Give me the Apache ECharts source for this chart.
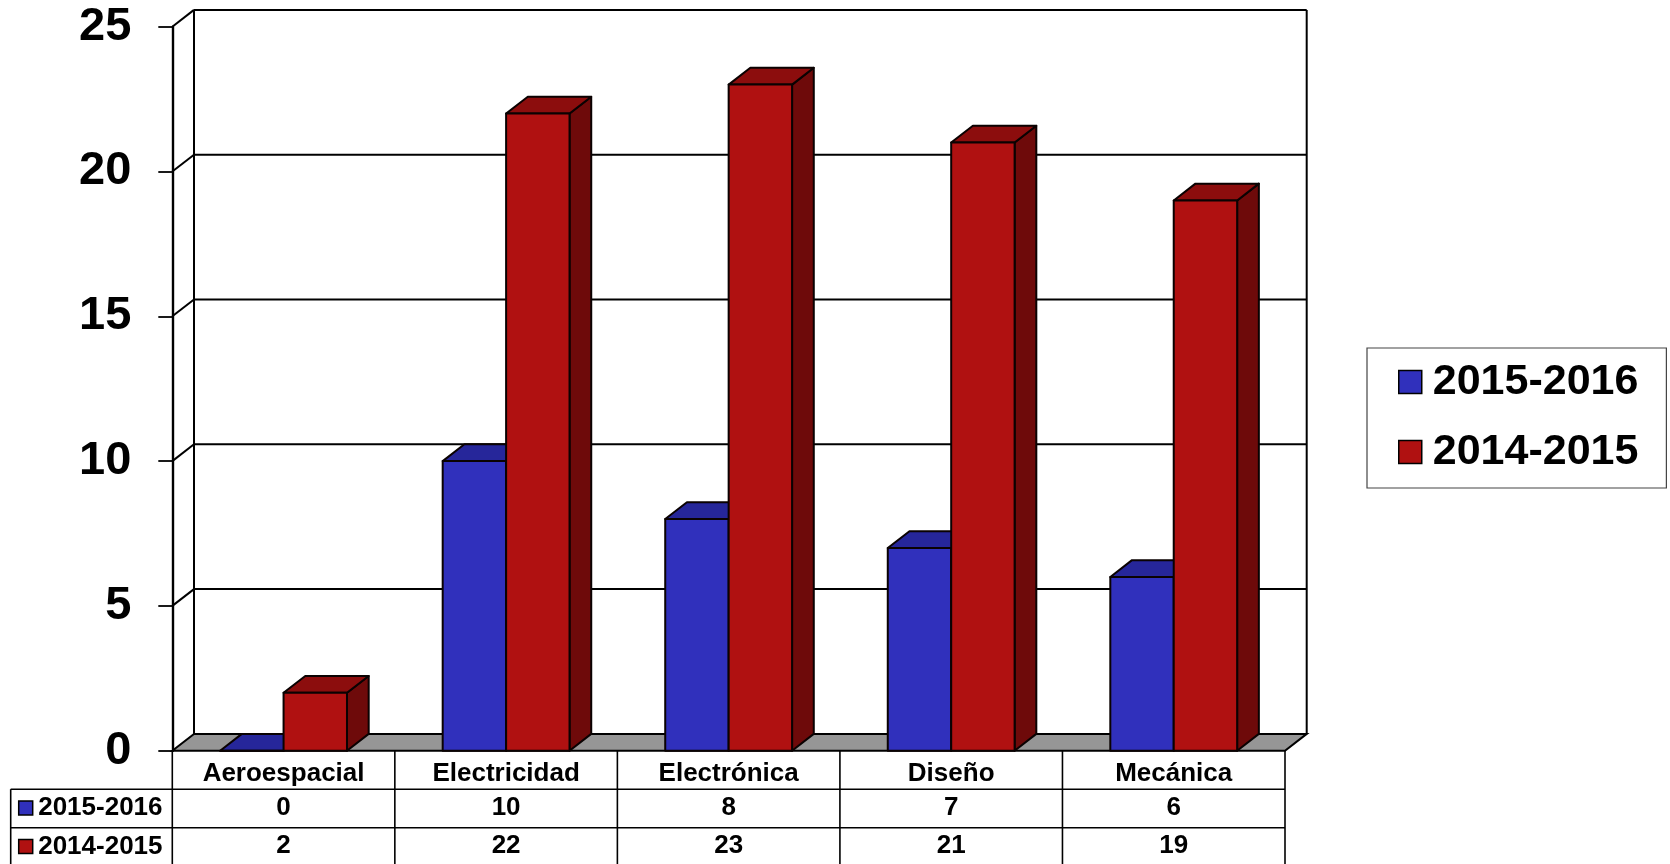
<!DOCTYPE html>
<html>
<head>
<meta charset="utf-8">
<style>html,body{margin:0;padding:0;background:#fff}#c{width:1670px;height:864px}</style>
<script src="https://cdn.jsdelivr.net/npm/echarts@6/dist/echarts.min.js"></script>
</head>
<body>
<div id="c"></div>
<script>
// ---- data ----
const categories = ['Aeroespacial', 'Electricidad', 'Electrónica', 'Diseño', 'Mecánica'];
const seriesNames = ['2015-2016', '2014-2015'];
const values2015_2016 = [0, 10, 8, 7, 6];
const values2014_2015 = [2, 22, 23, 21, 19];
const yTicks = [0, 5, 10, 15, 20, 25];

// ---- style ----
const FONT = "'Liberation Sans', Arial, Helvetica, sans-serif";
const DX = 21.7, DY = -16.8;
const BAR_RATIO = 0.285;
const PAL = [
  { front: '#3030BC', top: '#26269A', side: '#1C1C78' },
  { front: '#B01111', top: '#8C0D0D', side: '#6E0A0A' }
];
const EDGE = '#0a0202';

function barRender(k) {
  const pal = PAL[k];
  return function (params, api) {
    const ci = api.value(0), v = api.value(1);
    const base = api.coord([ci, 0]);
    const topP = api.coord([ci, v]);
    const bw = api.size([1, 0])[0] * BAR_RATIO;
    const x0 = k === 0 ? base[0] - bw : base[0];
    const x1 = x0 + bw, yT = topP[1], yB = base[1];
    const st = (fill) => ({ fill: fill, stroke: EDGE, lineWidth: 2, lineJoin: 'round' });
    return {
      type: 'group', children: [
        { type: 'polygon', shape: { points: [[x1, yT], [x1 + DX, yT + DY], [x1 + DX, yB + DY], [x1, yB]] }, style: st(pal.side) },
        { type: 'polygon', shape: { points: [[x0, yT], [x0 + DX, yT + DY], [x1 + DX, yT + DY], [x1, yT]] }, style: st(pal.top) },
        { type: 'rect', shape: { x: x0, y: yT, width: bw, height: yB - yT }, style: st(pal.front) }
      ]
    };
  };
}

function ln(x1, y1, x2, y2, w, c) {
  return { type: 'line', shape: { x1: x1, y1: y1, x2: x2, y2: y2 }, style: { stroke: c || '#000', lineWidth: w || 2 } };
}

function frameRender(params, api) {
  const cs = params.coordSys;
  const xL = cs.x, xR = cs.x + cs.width;
  const y0 = api.coord([0, 0])[1];
  const yMax = api.coord([0, yTicks[yTicks.length - 1]])[1];
  const ch = [];
  ch.push({ type: 'polygon', shape: { points: [[xL, y0], [xL + DX, y0 + DY], [xR + DX, y0 + DY], [xR, y0]] },
    style: { fill: '#969696', stroke: '#000', lineWidth: 2 } });
  ch.push(ln(xL + DX, yMax + DY, xL + DX, y0 + DY));
  ch.push(ln(xR + DX, yMax + DY, xR + DX, y0 + DY));
  yTicks.forEach(function (t) {
    if (t === 0) return;
    const y = api.coord([0, t])[1];
    ch.push(ln(xL + DX, y + DY, xR + DX, y + DY));
    ch.push(ln(xL, y, xL + DX, y + DY));
  });
  return { type: 'group', children: ch };
}

function txt(x, y, s, size, align) {
  return { type: 'text', style: { x: x, y: y, text: String(s), font: 'bold ' + size + 'px ' + FONT, fill: '#000',
    align: align || 'center', verticalAlign: 'middle', textAlign: align || 'center', textVerticalAlign: 'middle' } };
}

function tableRender(params, api) {
  const cs = params.coordSys;
  const xL = cs.x, xR = cs.x + cs.width;
  const y0 = api.coord([0, 0])[1];
  const RH = 38.5;
  const HX = xL - 161.6;
  const cw = api.size([1, 0])[0];
  const ch = [];
  for (let r = 1; r <= 3; r++) ch.push(ln(HX, y0 + r * RH, xR, y0 + r * RH, 1.6));
  ch.push(ln(HX, y0 + RH, HX, y0 + 3 * RH, 1.6));
  for (let i = 0; i <= categories.length; i++) {
    const x = xL + i * cw;
    ch.push(ln(x, y0, x, y0 + 3 * RH, 1.6));
  }
  const rows = [values2015_2016, values2014_2015];
  categories.forEach(function (c, i) {
    const cx = api.coord([i, 0])[0];
    ch.push(txt(cx, y0 + RH / 2 + 3.5, c, 26));
    rows.forEach(function (vals, k) {
      ch.push(txt(cx, y0 + (1.5 + k) * RH - 1, vals[i], 26));
    });
  });
  seriesNames.forEach(function (n, k) {
    const cy = y0 + (1.5 + k) * RH - 0.5;
    ch.push({ type: 'rect', shape: { x: HX + 8, y: cy - 7, width: 14, height: 14 },
      style: { fill: PAL[k].front, stroke: '#000', lineWidth: 1.5 } });
    ch.push(txt(HX + 27.5, cy, n, 26, 'left'));
  });
  return { type: 'group', children: ch };
}

const chart = echarts.init(document.getElementById('c'), null, { renderer: 'canvas' });
chart.setOption({
  animation: false,
  backgroundColor: '#fff',
  grid: { left: 172.3, right: 385, top: 26.7, bottom: 113.3, containLabel: false },
  xAxis: { type: 'category', data: categories, boundaryGap: true,
    axisLine: { show: false }, axisTick: { show: false }, axisLabel: { show: false }, splitLine: { show: false } },
  yAxis: { type: 'value', min: 0, max: 25, interval: 5,
    axisLine: { show: true, lineStyle: { color: '#000', width: 2.4 } },
    axisTick: { show: true, length: 14, lineStyle: { color: '#000', width: 1.8 } },
    axisLabel: { fontSize: 47, fontWeight: 'bold', color: '#000', fontFamily: FONT, margin: 41 },
    splitLine: { show: false } },
  legend: {
    data: seriesNames.map(function (n, k) {
      return { name: n, icon: 'rect', itemStyle: { color: PAL[k].front, borderColor: '#000', borderWidth: 1.5 } };
    }),
    orient: 'vertical', left: 1367, top: 348,
    padding: [9, 28, 11, 31],
    itemWidth: 23, itemHeight: 23, itemGap: 20,
    borderColor: '#444', borderWidth: 1.2,
    selectedMode: false,
    textStyle: { fontSize: 43, fontWeight: 'bold', color: '#000', fontFamily: FONT, lineHeight: 50, padding: [0, 0, 0, 6] }
  },
  series: [
    { type: 'custom', name: 'frame', z: 1, data: [[0, 0]], renderItem: frameRender, silent: true, encode: { x: 0, y: 1 } },
    { type: 'custom', name: seriesNames[0], z: 2, itemStyle: { color: PAL[0].front },
      data: values2015_2016.map(function (v, i) { return [i, v]; }), renderItem: barRender(0), encode: { x: 0, y: 1 } },
    { type: 'custom', name: seriesNames[1], z: 3, itemStyle: { color: PAL[1].front },
      data: values2014_2015.map(function (v, i) { return [i, v]; }), renderItem: barRender(1), encode: { x: 0, y: 1 } },
    { type: 'custom', name: 'table', z: 4, data: [[0, 0]], renderItem: tableRender, silent: true, encode: { x: 0, y: 1 } }
  ]
});
</script>
</body>
</html>
